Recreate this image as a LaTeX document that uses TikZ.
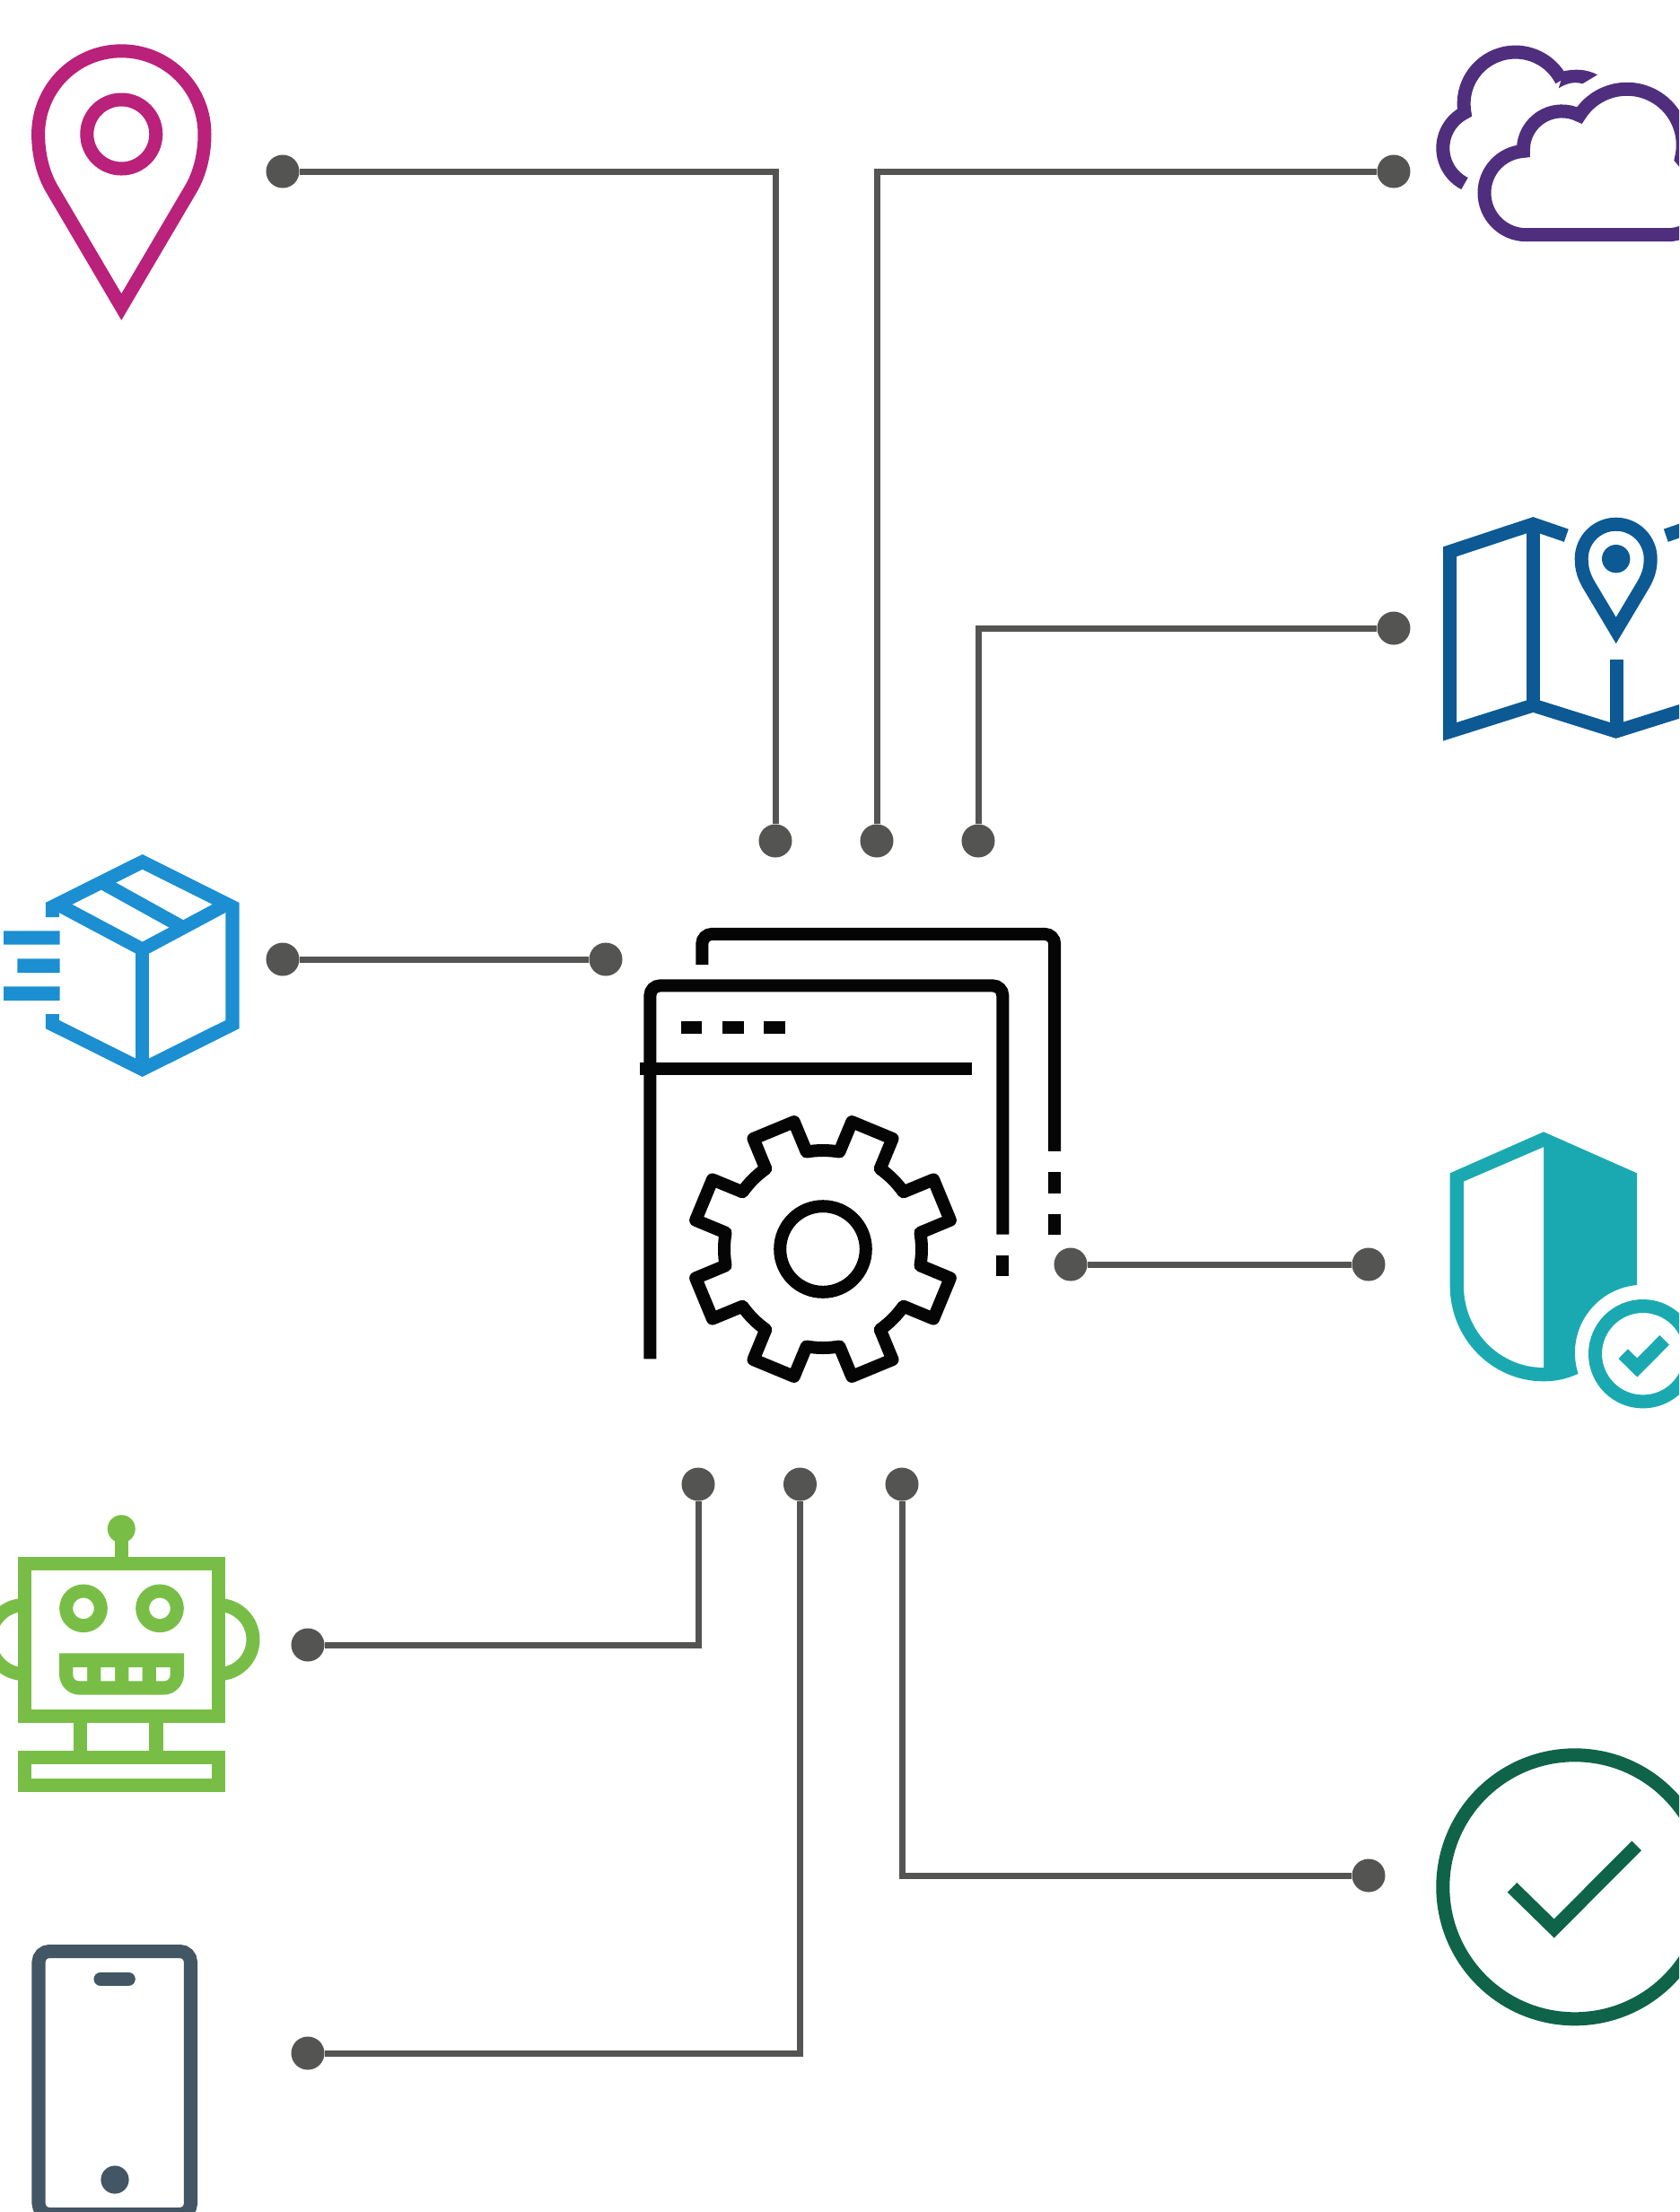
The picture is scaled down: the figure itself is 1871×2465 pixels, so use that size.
\documentclass[tikz,border=0pt]{standalone}
\definecolor{wirecol}{HTML}{545452}
\definecolor{pincol}{HTML}{B9217A}
\definecolor{cloudcol}{HTML}{4F2E7E}
\definecolor{mapcol}{HTML}{0C5994}
\definecolor{boxcol}{HTML}{1B8FD1}
\definecolor{gearcol}{HTML}{050505}
\definecolor{shieldcol}{HTML}{1BA9B1}
\definecolor{robotcol}{HTML}{78BE46}
\definecolor{phonecol}{HTML}{425664}
\definecolor{checkcol}{HTML}{0F6349}
\tikzset{
  dot/.style={circle,fill=wirecol,inner sep=0pt,minimum size=0.37cm},
  wire/.style={draw=wirecol,line width=0.07cm},
  icon/.style={line width=0.15cm,miter limit=10},
  thin icon/.style={line width=0.14cm,miter limit=10}
}
\begin{document}
\begin{tikzpicture}[x=0.01cm,y=-0.01cm,line join=miter]
\useasboundingbox (0,0) rectangle (1871,2465);
\clip (0,0) rectangle (1871,2465);
\node[dot] (pinDot) at (315,191) {};
\node[dot] (cloudDot) at (1553,191) {};
\node[dot] (mapDot) at (1553,700) {};
\node[dot] (boxDot) at (315,1069) {};
\node[dot] (boxEnd) at (675,1069) {};
\node[dot] (shieldStart) at (1193,1409) {};
\node[dot] (shieldDot) at (1525,1409) {};
\node[dot] (robotDot) at (343,1833) {};
\node[dot] (phoneDot) at (343,2288) {};
\node[dot] (checkDot) at (1525,2090) {};
\node[dot] (topA) at (864,937) {};
\node[dot] (topB) at (977,937) {};
\node[dot] (topC) at (1090,937) {};
\node[dot] (lowA) at (778,1654) {};
\node[dot] (lowB) at (891.5,1654) {};
\node[dot] (lowC) at (1005,1654) {};
\draw[wire] (pinDot) -| (topA);
\draw[wire] (cloudDot) -| (topB);
\draw[wire] (mapDot) -| (topC);
\draw[wire] (boxDot) -- (boxEnd);
\draw[wire] (shieldStart) -- (shieldDot);
\draw[wire] (robotDot) -| (lowA);
\draw[wire] (phoneDot) -| (lowB);
\draw[wire] (checkDot) -| (lowC);
\draw[icon,pincol] (135.3,342) -- (57,209) .. controls (48,193) and (42.6,172) .. (42.6,149.5) arc[start angle=180,end angle=360,radius=92.7] .. controls (228,172) and (222.6,193) .. (213.6,209) -- cycle;
\draw[icon,pincol] (135.3,149.5) circle[radius=38.5];
\draw[icon,cloudcol] (1700.7,261.7) arc[start angle=90,end angle=266,radius=46.7] arc[start angle=178,end angle=297,radius=43] arc[start angle=212,end angle=374,radius=62.4] -- (1904.7,215) arc[start angle=0,end angle=90,radius=46.7] -- cycle;
\draw[icon,cloudcol] (1632,204.5) arc[start angle=117,end angle=243,radius=44.3] arc[start angle=170,end angle=333,radius=57.5];
\fill[cloudcol] (1742.7,79.3) .. controls (1755,76.5) and (1768,77) .. (1780,83.3) -- (1763.3,93.3) .. controls (1754,90.5) and (1745,93) .. (1736.7,98.3) -- cycle;
\draw[icon,mapcol] (1745.3,596.7) -- (1708.3,584) -- (1615.7,614.7) -- (1615.7,815.3) -- (1708.3,786) -- (1800.7,815) -- (1893,786);
\draw[icon,mapcol] (1856.3,596.7) -- (1893,584);
\draw[icon,mapcol] (1708.3,590) -- (1708.3,786);
\draw[icon,mapcol] (1801,735) -- (1801,815);
\draw[icon,mapcol] (1800.7,702.5) -- (1770,651) .. controls (1765,642) and (1762.2,634) .. (1762.2,622.7) arc[start angle=180,end angle=360,radius=38.5] .. controls (1839.2,634) and (1836.4,642) .. (1831.4,651) -- cycle;
\fill[mapcol] (1800.7,622.7) circle[radius=15.7];
\draw[icon,boxcol] (58.3,1130) -- (58.3,1141.5) -- (158.7,1191.6) -- (259,1141.5) -- (259,1010.5) -- (158.7,960.4) -- (58.3,1010.5) -- (58.3,1022);
\draw[icon,boxcol] (61,1006) -- (158.7,1058) -- (256,1006);
\draw[icon,boxcol] (158.7,1058) -- (158.7,1191);
\draw[icon,boxcol] (112,982.6) -- (205,1034.2);
\fill[boxcol] (4,1037.3) rectangle (66.5,1052.7) (19.3,1068.3) rectangle (66.5,1084) (4,1099.3) rectangle (66.5,1115);
\draw[thin icon,gearcol,rounded corners=0.11cm] (782.3,1075.2) -- (782.3,1040.9) -- (1175.2,1040.9) -- (1175.2,1282.9);
\draw[thin icon,gearcol] (1175.2,1306.4) -- (1175.2,1329.9) (1175.2,1352.7) -- (1175.2,1376.2);
\draw[thin icon,gearcol,rounded corners=0.11cm] (724.4,1514.4) -- (724.4,1098.4) -- (1117.3,1098.4) -- (1117.3,1375.5);
\draw[thin icon,gearcol] (1117.3,1398.6) -- (1117.3,1422.1);
\draw[thin icon,gearcol] (712.7,1191.2) -- (1082.9,1191.2);
\draw[thin icon,gearcol] (758.9,1144.7) -- (782.3,1144.7) (805.4,1144.7) -- (828.8,1144.7) (851.2,1144.7) -- (874.9,1144.7);
\begin{scope}[shift={(917,1392)}]
\draw[thin icon,gearcol,line join=round] (9.6:110) \foreach \a [evaluate=\a as \s using \a+12.9, evaluate=\a as \e using \a+32.1] in {22.5,67.5,...,337.5} { -- (\a-9.7:145.5) -- (\a+9.7:145.5) -- (\s:110) arc[start angle=\s,end angle=\e,radius=110] } -- cycle;
\draw[thin icon,gearcol] (0,0) circle[radius=47.8];
\end{scope}
\fill[shieldcol] (1720,1261.3) -- (1824,1307.3) -- (1824,1432) arc[start angle=265,end angle=162,radius=75.7] .. controls (1745,1537) and (1733,1539.3) .. (1720,1539.3) .. controls (1662.4,1539.3) and (1615.7,1491.5) .. (1615.7,1433) -- (1615.7,1307.3) -- cycle;
\fill[white] (1720,1278.3) -- (1631,1316.7) -- (1631,1433) .. controls (1631,1483) and (1671,1524) .. (1720,1524) -- cycle;
\draw[icon,shieldcol] (1830.7,1508.7) circle[radius=53.2];
\draw[icon,shieldcol] (1808.7,1508.7) -- (1824.3,1524) -- (1854.7,1493.3);
\draw[icon,robotcol] (27.3,1742.2) rectangle (243.3,1912.2);
\draw[icon,robotcol] (27.3,1958.3) rectangle (243.3,1989.3);
\draw[icon,robotcol] (135.3,1703) -- (135.3,1742);
\fill[robotcol] (135.3,1703.7) circle[radius=15.5];
\draw[icon,robotcol] (89.3,1912) -- (89.3,1958) (174,1912) -- (174,1958);
\draw[icon,robotcol] (243.5,1788.5) arc[start angle=-90,end angle=90,radius=38.5];
\draw[icon,robotcol] (27,1788.5) arc[start angle=270,end angle=90,radius=38.5];
\draw[icon,robotcol] (93,1792.3) circle[radius=19.3] (178,1792.3) circle[radius=19.3];
\fill[robotcol] (66,1842.3) -- (205,1842.3) -- (205,1865.7) arc[start angle=0,end angle=90,radius=23] -- (89,1888.7) arc[start angle=90,end angle=180,radius=23] -- cycle;
\fill[white] (81.3,1858) -- (97,1858) -- (97,1873.3) -- (88.3,1873.3) arc[start angle=90,end angle=180,radius=7] -- cycle;
\fill[white] (112.3,1858) rectangle (128,1873.3) (143.3,1858) rectangle (158.7,1873.3);
\fill[white] (174,1858) -- (189.7,1858) -- (189.7,1866.3) arc[start angle=0,end angle=90,radius=7] -- (174,1873.3) -- cycle;
\draw[icon,phonecol,rounded corners=0.12cm] (43,2174.5) rectangle (212.5,2467.5);
\draw[icon,phonecol,line cap=round] (112,2205.3) -- (143.3,2205.3);
\fill[phonecol] (128,2429) circle[radius=15.6];
\draw[icon,checkcol] (1754.8,2102.8) circle[radius=147];
\draw[icon,checkcol] (1685,2103.3) -- (1731.7,2149) -- (1823.7,2056.7);
\end{tikzpicture}
\end{document}
